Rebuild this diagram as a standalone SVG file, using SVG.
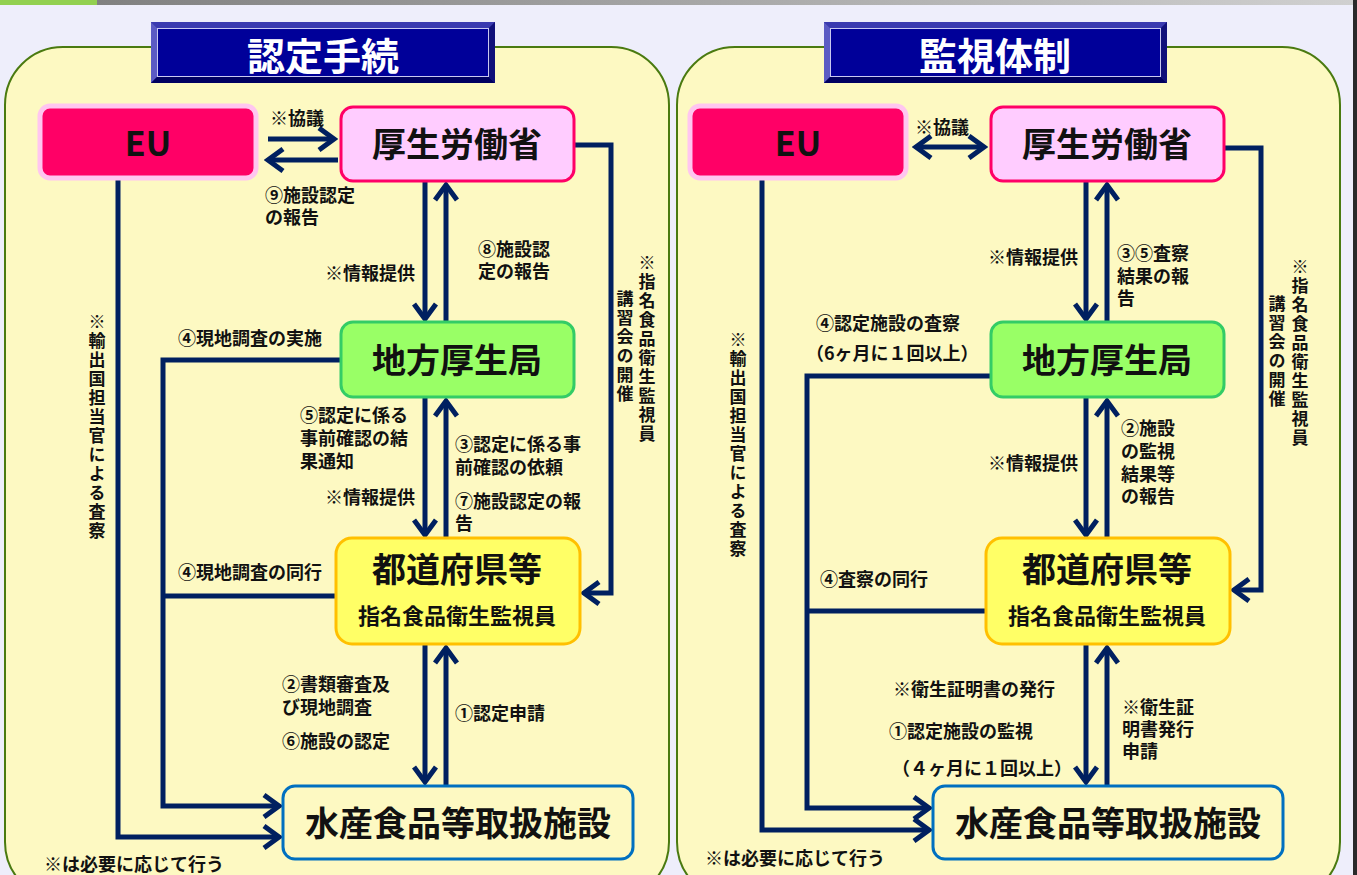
<svg xmlns="http://www.w3.org/2000/svg" width="1357" height="875" viewBox="0 0 1357 875">
<style>
text{font-family:"Noto Sans CJK JP","Noto Sans",sans-serif;font-weight:bold;fill:#111}
.lbl{font-size:18px;dominant-baseline:central}
.end{text-anchor:end}
.box{font-size:34px;text-anchor:middle;dominant-baseline:central}
.sub{font-size:22px;text-anchor:middle;dominant-baseline:central}
.title{font-size:38px;fill:#fff;text-anchor:middle;dominant-baseline:central}
.vert{font-size:17px;writing-mode:vertical-rl;letter-spacing:2px}
.ln{fill:none;stroke:#002060;stroke-width:5}
.panel{fill:#FDF9C2;stroke:#4A7A10;stroke-width:2}
</style>
<defs>
<linearGradient id="topbar" x1="0" x2="1" y1="0" y2="0">
<stop offset="0" stop-color="#7A7A7A"/><stop offset="1" stop-color="#D0D0D0"/>
</linearGradient>
<marker id="ah" viewBox="0 0 24 26" markerWidth="24" markerHeight="26" refX="20" refY="13" orient="auto-start-reverse" markerUnits="userSpaceOnUse">
<path d="M5,2 L20,13 L5,24" fill="none" stroke="#002060" stroke-width="5" stroke-linejoin="miter"/>
</marker>
</defs>
<rect x="0" y="0" width="1357" height="875" fill="#EEEEFB"/>
<rect x="0" y="0" width="1353" height="5" fill="url(#topbar)"/>
<rect x="0" y="0" width="97" height="5" fill="#92D050"/>
<rect x="1353" y="0" width="4" height="875" fill="#2A2A2A"/>

<g id="panel-left">
<rect class="panel" x="5" y="47" width="664" height="853" rx="58"/>
</g>
<g id="panel-right">
<rect class="panel" x="677" y="47" width="663" height="853" rx="58"/>
</g>

<g id="title-left">
<rect x="151" y="22" width="344" height="61" fill="#26268F"/>
<polygon points="151,22 495,22 489,28 157,28" fill="#3A3AB0"/>
<polygon points="151,22 157,28 157,77 151,83" fill="#5B5BC4"/>
<polygon points="151,83 157,77 489,77 495,83" fill="#000060"/>
<polygon points="495,22 495,83 489,77 489,28" fill="#10107A"/>
<rect x="157.5" y="28.5" width="331" height="48" fill="#000099" stroke="#C8C8F0" stroke-width="1"/>
<text class="title" x="323" y="53">認定手続</text>
</g>
<g id="title-right">
<rect x="824" y="22" width="343" height="61" fill="#26268F"/>
<polygon points="824,22 1167,22 1161,28 830,28" fill="#3A3AB0"/>
<polygon points="824,22 830,28 830,77 824,83" fill="#5B5BC4"/>
<polygon points="824,83 830,77 1161,77 1167,83" fill="#000060"/>
<polygon points="1167,22 1167,83 1161,77 1161,28" fill="#10107A"/>
<rect x="830.5" y="28.5" width="330" height="48" fill="#000099" stroke="#C8C8F0" stroke-width="1"/>
<text class="title" x="995" y="53">監視体制</text>
</g>

<g id="connectors">
<line class="ln" x1="268" y1="139" x2="334" y2="139" marker-end="url(#ah)"/>
<line class="ln" x1="338" y1="160" x2="268" y2="160" marker-end="url(#ah)"/>
<line class="ln" x1="425" y1="182" x2="425" y2="319" marker-end="url(#ah)"/>
<line class="ln" x1="446" y1="322" x2="446" y2="185" marker-end="url(#ah)"/>
<line class="ln" x1="425" y1="398" x2="425" y2="535" marker-end="url(#ah)"/>
<line class="ln" x1="446" y1="538" x2="446" y2="401" marker-end="url(#ah)"/>
<line class="ln" x1="425" y1="645" x2="425" y2="782" marker-end="url(#ah)"/>
<line class="ln" x1="446" y1="786" x2="446" y2="648" marker-end="url(#ah)"/>
<polyline class="ln" points="574,145 611,145 611,593 584,593" marker-end="url(#ah)"/>
<polyline class="ln" points="341,360 163,360 163,806 279,806" marker-end="url(#ah)"/>
<line class="ln" x1="336" y1="596" x2="163" y2="596"/>
<polyline class="ln" points="118,180 118,837 279,837" marker-end="url(#ah)"/>
<line class="ln" x1="916" y1="147" x2="984" y2="147" marker-start="url(#ah)" marker-end="url(#ah)"/>
<line class="ln" x1="1086" y1="182" x2="1086" y2="319" marker-end="url(#ah)"/>
<line class="ln" x1="1107" y1="322" x2="1107" y2="185" marker-end="url(#ah)"/>
<line class="ln" x1="1086" y1="398" x2="1086" y2="535" marker-end="url(#ah)"/>
<line class="ln" x1="1107" y1="538" x2="1107" y2="401" marker-end="url(#ah)"/>
<line class="ln" x1="1086" y1="645" x2="1086" y2="782" marker-end="url(#ah)"/>
<line class="ln" x1="1107" y1="786" x2="1107" y2="648" marker-end="url(#ah)"/>
<polyline class="ln" points="1224,148 1261,148 1261,590 1234,590" marker-end="url(#ah)"/>
<polyline class="ln" points="990,376 807,376 807,808 929,808" marker-end="url(#ah)"/>
<line class="ln" x1="986" y1="611" x2="807" y2="611"/>
<polyline class="ln" points="762,180 762,830 929,830" marker-end="url(#ah)"/>
</g>

<g id="eu-left">
<rect x="40" y="106" width="216" height="72" rx="10" fill="#FF0066" stroke="#FFC6F0" stroke-width="5"/>
<text class="box" x="148" y="141">EU</text>
</g>
<g id="mhlw-left">
<rect x="341" y="107" width="233" height="74" rx="12" fill="#FFCCFF" stroke="#FF0066" stroke-width="3"/>
<text class="box" x="457" y="142">厚生労働省</text>
</g>
<g id="regional-left">
<rect x="341" y="322" width="233" height="75" rx="12" fill="#99FF66" stroke="#33CC66" stroke-width="3"/>
<text class="box" x="457" y="358">地方厚生局</text>
</g>
<g id="pref-left">
<rect x="336" y="538" width="244" height="106" rx="16" fill="#FFFF66" stroke="#FFC000" stroke-width="3"/>
<text class="box" x="457" y="567">都道府県等</text>
<text class="sub" x="457" y="614">指名食品衛生監視員</text>
</g>
<g id="facility-left">
<rect x="283" y="786" width="350" height="73" rx="12" fill="#FDF9C2" stroke="#0070C0" stroke-width="3"/>
<text class="box" x="458" y="821">水産食品等取扱施設</text>
</g>

<g id="eu-right">
<rect x="690" y="106" width="216" height="72" rx="10" fill="#FF0066" stroke="#FFC6F0" stroke-width="5"/>
<text class="box" x="798" y="141">EU</text>
</g>
<g id="mhlw-right">
<rect x="991" y="107" width="233" height="74" rx="12" fill="#FFCCFF" stroke="#FF0066" stroke-width="3"/>
<text class="box" x="1107" y="142">厚生労働省</text>
</g>
<g id="regional-right">
<rect x="991" y="322" width="233" height="75" rx="12" fill="#99FF66" stroke="#33CC66" stroke-width="3"/>
<text class="box" x="1107" y="358">地方厚生局</text>
</g>
<g id="pref-right">
<rect x="986" y="538" width="244" height="106" rx="16" fill="#FFFF66" stroke="#FFC000" stroke-width="3"/>
<text class="box" x="1107" y="567">都道府県等</text>
<text class="sub" x="1107" y="614">指名食品衛生監視員</text>
</g>
<g id="facility-right">
<rect x="933" y="786" width="350" height="73" rx="12" fill="#FDF9C2" stroke="#0070C0" stroke-width="3"/>
<text class="box" x="1108" y="821">水産食品等取扱施設</text>
</g>

<g id="labels-left">
<text class="lbl" x="270" y="117">※協議</text>
<text class="lbl"><tspan x="265" y="194">⑨施設認定</tspan><tspan x="265" y="216">の報告</tspan></text>
<text class="lbl end" x="415" y="272">※情報提供</text>
<text class="lbl"><tspan x="478" y="248">⑧施設認</tspan><tspan x="478" y="270">定の報告</tspan></text>
<text class="lbl" x="178" y="337">④現地調査の実施</text>
<text class="lbl"><tspan x="300" y="414">⑤認定に係る</tspan><tspan x="300" y="437">事前確認の結</tspan><tspan x="300" y="460">果通知</tspan></text>
<text class="lbl end" x="415" y="496">※情報提供</text>
<text class="lbl"><tspan x="455" y="443">③認定に係る事</tspan><tspan x="455" y="466">前確認の依頼</tspan></text>
<text class="lbl"><tspan x="455" y="500">⑦施設認定の報</tspan><tspan x="455" y="522">告</tspan></text>
<text class="lbl" x="178" y="571">④現地調査の同行</text>
<text class="lbl"><tspan x="282" y="683">②書類審査及</tspan><tspan x="282" y="706">び現地調査</tspan></text>
<text class="lbl" x="282" y="740">⑥施設の認定</text>
<text class="lbl" x="455" y="712">①認定申請</text>
<text class="lbl" x="44" y="863">※は必要に応じて行う</text>
<text class="vert" x="647" y="254">※指名食品衛生監視員</text>
<text class="vert" x="625" y="290">講習会の開催</text>
<text class="vert" x="97" y="313">※輸出国担当官による査察</text>
</g>

<g id="labels-right">
<text class="lbl" x="915" y="126">※協議</text>
<text class="lbl end" x="1078" y="256">※情報提供</text>
<text class="lbl"><tspan x="1117" y="252">③⑤査察</tspan><tspan x="1117" y="275">結果の報</tspan><tspan x="1117" y="297">告</tspan></text>
<text class="lbl"><tspan x="816" y="322">④認定施設の査察</tspan><tspan x="806" y="352">（6ヶ月に１回以上）</tspan></text>
<text class="lbl end" x="1078" y="462">※情報提供</text>
<text class="lbl"><tspan x="1121" y="427">②施設</tspan><tspan x="1121" y="450">の監視</tspan><tspan x="1121" y="473">結果等</tspan><tspan x="1121" y="495">の報告</tspan></text>
<text class="lbl" x="820" y="578">④査察の同行</text>
<text class="lbl" x="893" y="688">※衛生証明書の発行</text>
<text class="lbl"><tspan x="889" y="730">①認定施設の監視</tspan><tspan x="892" y="767">（４ヶ月に１回以上）</tspan></text>
<text class="lbl"><tspan x="1122" y="706">※衛生証</tspan><tspan x="1122" y="728">明書発行</tspan><tspan x="1122" y="750">申請</tspan></text>
<text class="lbl" x="705" y="857">※は必要に応じて行う</text>
<text class="vert" x="1300" y="258">※指名食品衛生監視員</text>
<text class="vert" x="1277" y="295">講習会の開催</text>
<text class="vert" x="738" y="331">※輸出国担当官による査察</text>
</g>
</svg>
